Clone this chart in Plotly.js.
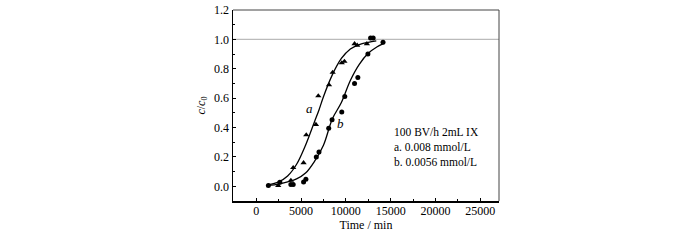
<!DOCTYPE html>
<html>
<head>
<meta charset="utf-8">
<script src="https://cdn.plot.ly/plotly-3.0.1.min.js"></script>
<style>html,body{margin:0;padding:0;background:#fff;}#chart{width:700px;height:240px;}</style>
</head>
<body>
<div id="chart"></div>
<script>
// Series a (triangles) measured points
const aX = [2450, 3860, 4120, 5280, 5580, 6660, 6925, 8120, 8530, 9545, 9840, 10970, 11270, 12350];
const aY = [0.005, 0.04, 0.127, 0.16, 0.35, 0.42, 0.615, 0.69, 0.775, 0.84, 0.85, 0.97, 0.96, 0.97];
// Series b (circles) measured points
const bX = [1350, 2630, 3860, 4120, 5280, 5540, 6700, 7000, 8085, 8460, 9545, 9880, 10970, 11340, 12460, 12760, 13050, 14150];
const bY = [0.005, 0.027, 0.013, 0.013, 0.03, 0.048, 0.2, 0.234, 0.395, 0.453, 0.506, 0.612, 0.70, 0.74, 0.90, 1.01, 1.01, 0.98];
// Fitted curves
const aFitX = [1300, 2500, 3500, 4500, 5500, 6500, 7000, 7500, 8500, 9500, 10500, 11500, 12500, 13400];
const aFitY = [0.01, 0.03, 0.07, 0.15, 0.28, 0.44, 0.52, 0.61, 0.76, 0.87, 0.935, 0.965, 0.98, 0.99];
const bFitX = [1300, 2500, 3500, 4500, 5500, 6500, 7500, 8500, 9500, 10500, 11500, 12500, 13500, 14300];
const bFitY = [0.005, 0.015, 0.03, 0.05, 0.09, 0.17, 0.28, 0.46, 0.57, 0.72, 0.83, 0.905, 0.95, 0.975];
const xTicks = [0, 5000, 10000, 15000, 20000, 25000];
const yTicks = [0.0, 0.2, 0.4, 0.6, 0.8, 1.0, 1.2];
const legendLines = ["100 BV/h 2mL IX", "a. 0.008 mmol/L", "b. 0.0056 mmol/L"];

const F = "Liberation Serif";
const traces = [
  {x: aFitX, y: aFitY, mode: 'lines', line: {color: '#000', width: 1.3, shape: 'spline', smoothing: 1}, hoverinfo: 'skip'},
  {x: bFitX, y: bFitY, mode: 'lines', line: {color: '#000', width: 1.3, shape: 'spline', smoothing: 1}, hoverinfo: 'skip'},
  {x: aX, y: aY, mode: 'markers', marker: {symbol: 'triangle-up', size: 5.5, color: '#000'}},
  {x: bX, y: bY, mode: 'markers', marker: {symbol: 'circle', size: 5, color: '#000'}}
];
const layout = {
  width: 700, height: 240,
  margin: {l: 233, r: 201, t: 10, b: 39},
  showlegend: false,
  paper_bgcolor: '#fff', plot_bgcolor: '#fff',
  font: {family: F, size: 12, color: '#000'},
  xaxis: {
    range: [-2600, 27100], tickvals: xTicks, ticktext: xTicks.map(String),
    showgrid: false, zeroline: false, showline: true, linecolor: '#000', linewidth: 1.5,
    ticks: 'inside', ticklen: 3, tickcolor: '#000', ticklabelstandoff: -2,
    minor: {dtick: 2500, tick0: 0, ticks: 'inside', ticklen: 2, tickcolor: '#000'},
    tickfont: {family: F, size: 12},
    title: {text: 'Time / min', font: {family: F, size: 12}, standoff: 0}
  },
  yaxis: {
    range: [-0.1, 1.2], tickvals: yTicks, ticktext: yTicks.map(v => v.toFixed(1)),
    showgrid: false, zeroline: false, showline: true, linecolor: '#000', linewidth: 1.5,
    ticks: 'inside', ticklen: 3, tickcolor: '#000',
    minor: {dtick: 0.1, tick0: 0, ticks: 'inside', ticklen: 2, tickcolor: '#000'},
    tickfont: {family: F, size: 12},
    title: {text: '<i>c</i>/<i>c</i><sub>0</sub>', font: {family: F, size: 12}, standoff: 6}
  },
  shapes: [
    {type: 'line', xref: 'paper', yref: 'y', x0: 0, x1: 1, y0: 1.0, y1: 1.0, line: {color: '#bbb', width: 1.2}, layer: 'below'},
    {type: 'line', xref: 'paper', yref: 'paper', x0: 0, x1: 1, y0: 1, y1: 1, line: {color: '#444', width: 1}},
    {type: 'line', xref: 'paper', yref: 'paper', x0: 1, x1: 1, y0: 0, y1: 1, line: {color: '#444', width: 1}}
  ],
  annotations: [
    {x: 5950, y: 0.53, xref: 'x', yref: 'y', text: '<i>a</i>', showarrow: false, font: {family: F, size: 13}},
    {x: 9450, y: 0.43, xref: 'x', yref: 'y', text: '<i>b</i>', showarrow: false, font: {family: F, size: 13}},
    {x: 15200, y: 0.367, xref: 'x', yref: 'y', xanchor: 'left', text: legendLines[0], showarrow: false, font: {family: F, size: 11.5}},
    {x: 15200, y: 0.265, xref: 'x', yref: 'y', xanchor: 'left', text: legendLines[1], showarrow: false, font: {family: F, size: 11.5}},
    {x: 15200, y: 0.163, xref: 'x', yref: 'y', xanchor: 'left', text: legendLines[2], showarrow: false, font: {family: F, size: 11.5}}
  ]
};
Plotly.newPlot('chart', traces, layout, {displayModeBar: false, staticPlot: true});
</script>
</body>
</html>
